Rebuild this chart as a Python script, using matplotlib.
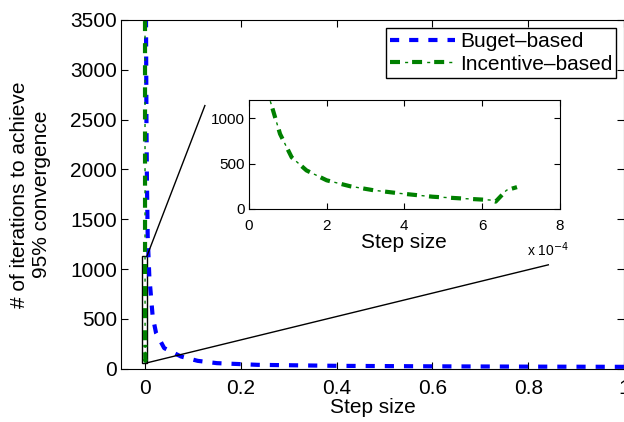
import numpy as np
import matplotlib
matplotlib.use("Agg")
import matplotlib.pyplot as plt

plt.rcParams['font.family'] = ['Liberation Sans', 'DejaVu Sans']
plt.rcParams['xtick.direction'] = 'in'
plt.rcParams['ytick.direction'] = 'in'

# Данные: бюджетная схема
budget_step = [0.001, 0.002, 0.003, 0.004, 0.0056, 0.009, 0.016, 0.023, 0.04,
               0.075, 0.11, 0.15, 0.235, 0.4, 0.6, 0.8, 1.0]
budget_iter = [7000, 3600, 2500, 1900, 1330, 926, 525, 361, 208,
               124, 80, 57, 40, 30, 25, 22, 20]

# Данные: стимулирующая схема (шаг в единицах 1e-4)
incent_step = [0.1, 0.2, 0.3, 0.4, 0.54, 0.8, 1.1, 1.48, 2.0, 2.6, 3.2,
               3.9, 4.73, 5.6, 6.2, 6.35, 6.63, 6.9]
incent_iter = [6000, 3000, 2000, 1600, 1200, 826, 568, 424, 315, 250, 206,
               170, 134, 112, 98, 80, 206, 240]

# Рамка увеличения и соединительные линии (в координатах данных)
zoom_box = (-0.006, 60, 0.010, 1070)
link_top = ([0.004, 0.125], [1130, 2640])
link_bot = ([0.004, 0.842], [60, 1043])

FS = 15

def green_line(axis, x, y):
    # толстый штрих + тонкая точка, как в MATLAB
    thick, = axis.plot(x, y, color='green', linewidth=3, linestyle=(0, (2.4, 2.9)))
    thin, = axis.plot(x, y, color='green', linewidth=1, linestyle=(5.4, (2.2, 13.7)))
    return thick, thin

fig = plt.figure(figsize=(6.24, 4.22), dpi=100)
ax = fig.add_axes([0.194, 0.126, 0.806, 0.827])

incent_x = np.array(incent_step) * 1e-4
b_line, = ax.plot(budget_step, budget_iter, color='blue', linewidth=3,
                  linestyle=(0, (2.2, 2.4)))
g_lines = green_line(ax, incent_x, incent_iter)

ax.add_patch(plt.Rectangle((zoom_box[0], zoom_box[1]), zoom_box[2], zoom_box[3],
                           fill=False, edgecolor='black', linewidth=1))
ax.plot(*link_top, color='black', linewidth=1)
ax.plot(*link_bot, color='black', linewidth=1)

ax.set_xlim(-0.05, 1.0)
ax.set_ylim(0, 3500)
ax.set_xticks([0, 0.2, 0.4, 0.6, 0.8, 1])
ax.set_xticklabels(['0', '0.2', '0.4', '0.6', '0.8', '1'])
ax.set_yticks(range(0, 3501, 500))
ax.tick_params(labelsize=FS, top=True, right=True, length=5)
ax.tick_params(axis='x', pad=7)
ax.tick_params(axis='y', pad=3)
ax.set_xlabel('Step size', fontsize=FS, labelpad=0)
ax.set_ylabel('# of iterations to achieve\n95% convergence', fontsize=FS,
              linespacing=1.15)
ax.yaxis.set_label_coords(-0.14, 0.5)
leg = ax.legend([b_line, g_lines], ['Buget\u2013based', 'Incentive\u2013based'],
                loc='upper right', fontsize=FS, fancybox=False, framealpha=1,
                edgecolor='black', handlelength=3.1, borderpad=0.2,
                labelspacing=0.15, handletextpad=0.25, borderaxespad=0,
                bbox_to_anchor=(0.985, 0.976))
leg.get_frame().set_linewidth(1)

# Вставка
ins = fig.add_axes([0.399, 0.505, 0.498, 0.258])
green_line(ins, incent_step, incent_iter)
ins.set_xlim(0, 8)
ins.set_ylim(0, 1200)
ins.set_xticks([0, 2, 4, 6, 8])
ins.set_yticks([0, 500, 1000])
ins.tick_params(labelsize=11, top=True, right=True, length=4)
ins.tick_params(axis='x', pad=7)
ins.tick_params(axis='y', pad=3)
ins.set_xlabel('Step size', fontsize=FS, labelpad=0)
fig.text(0.845, 0.393, r'x 10$^{-4}$', fontsize=10)

fig.savefig('out.png', dpi=100)
